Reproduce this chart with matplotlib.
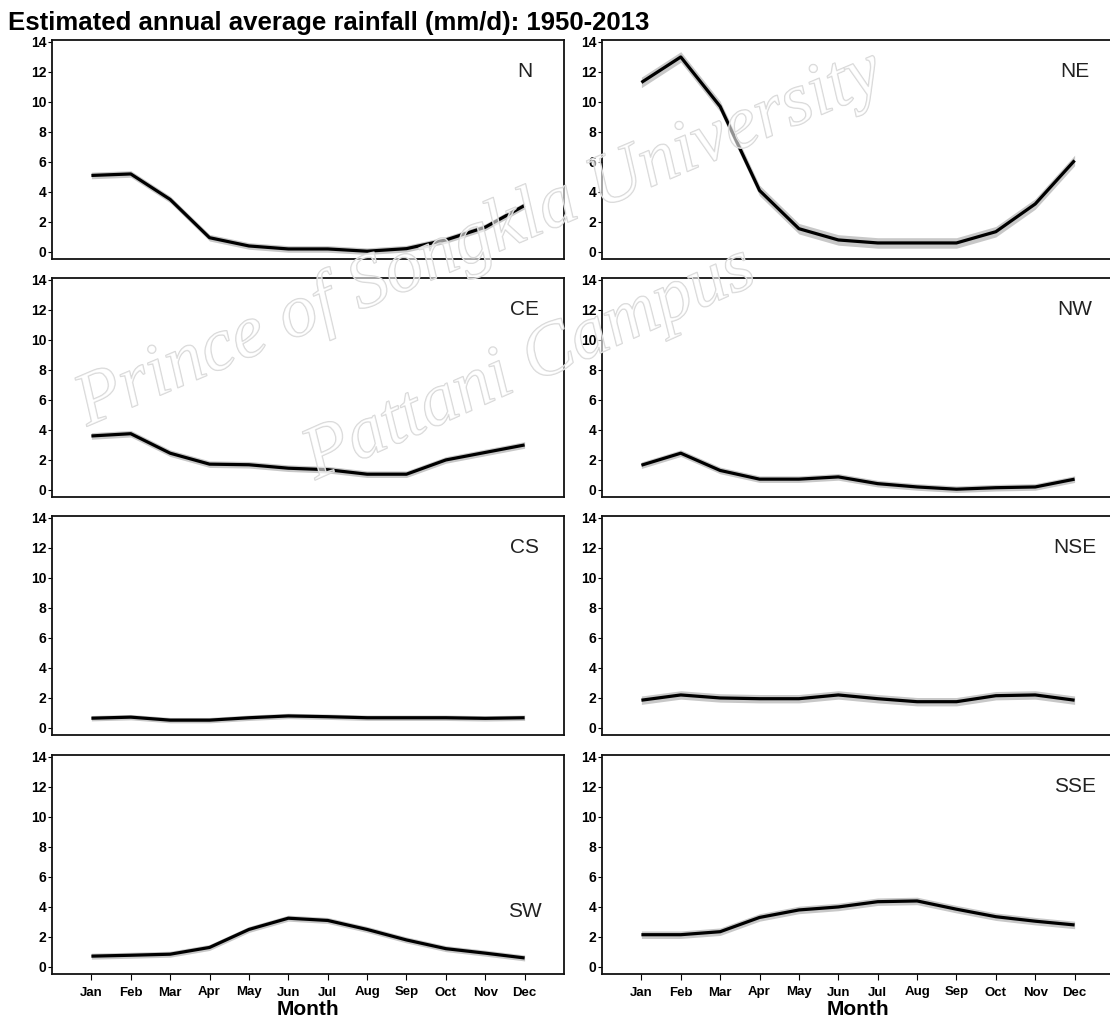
import matplotlib
matplotlib.use("Agg")
import matplotlib.pyplot as plt
import matplotlib.patheffects as pe
import numpy as np

plt.rcParams['font.family'] = ['Liberation Sans', 'DejaVu Sans']

months = ["Jan", "Feb", "Mar", "Apr", "May", "Jun", "Jul", "Aug", "Sep", "Oct", "Nov", "Dec"]
yticks = [0, 2, 4, 6, 8, 10, 12, 14]

region_names = ["N", "NE", "CE", "NW", "CS", "NSE", "SW", "SSE"]

rain_N = [5.1, 5.2, 3.5, 0.95, 0.4, 0.2, 0.2, 0.05, 0.22, 0.8, 1.65, 3.1]
rain_NE = [11.3, 13.0, 9.7, 4.1, 1.55, 0.8, 0.6, 0.6, 0.6, 1.35, 3.2, 6.1]
rain_CE = [3.6, 3.75, 2.45, 1.72, 1.68, 1.45, 1.35, 1.05, 1.05, 2.0, 2.5, 3.0]
rain_NW = [1.65, 2.45, 1.3, 0.72, 0.72, 0.87, 0.42, 0.2, 0.05, 0.15, 0.2, 0.72]
rain_CS = [0.65, 0.72, 0.52, 0.52, 0.68, 0.8, 0.75, 0.68, 0.68, 0.68, 0.64, 0.68]
rain_NSE = [1.85, 2.2, 2.0, 1.95, 1.95, 2.2, 1.95, 1.75, 1.75, 2.15, 2.2, 1.85]
rain_SW = [0.72, 0.78, 0.85, 1.3, 2.5, 3.25, 3.1, 2.5, 1.8, 1.22, 0.92, 0.6]
rain_SSE = [2.15, 2.15, 2.35, 3.3, 3.8, 4.0, 4.35, 4.4, 3.85, 3.35, 3.05, 2.8]

band_halfwidth = [0.22, 0.35, 0.22, 0.22, 0.18, 0.28, 0.2, 0.25]
label_y = [12.0, 12.0, 12.0, 12.0, 12.0, 12.0, 3.7, 12.0]

series = [rain_N, rain_NE, rain_CE, rain_NW, rain_CS, rain_NSE, rain_SW, rain_SSE]

W, H = 1110, 1018
fig = plt.figure(figsize=(W / 100, H / 100), dpi=100)

col_left = [52, 602]
col_width = 512
row_tops = [40, 278, 516, 755]
row_height = 219

x = np.arange(1, 13)
for i, (name, vals) in enumerate(zip(region_names, series)):
    r, c = divmod(i, 2)
    left = col_left[c] / W
    bottom = 1 - (row_tops[r] + row_height) / H
    ax = fig.add_axes([left, bottom, col_width / W, row_height / H])
    v = np.array(vals)
    b = band_halfwidth[i]
    ax.fill_between(x, v - b, v + b, color='#c8c8c8', lw=0, zorder=2)
    ax.plot(x, v, color='black', lw=2.3, zorder=3, solid_capstyle='butt')
    ax.set_xlim(0, 13)
    ax.set_ylim(-0.47, 14.13)
    ax.set_yticks(yticks)
    ax.set_yticklabels([str(t) for t in yticks], fontsize=10, fontweight='bold')
    ax.tick_params(axis='y', direction='out', length=3, width=0.8, pad=1)
    if r == 3:
        ax.set_xticks(x)
        ax.set_xticklabels(months, fontsize=9.5, fontweight='bold')
        ax.tick_params(axis='x', direction='out', length=4, width=0.8, pad=5)
        ax.set_xlabel("Month", fontsize=15, fontweight='bold', labelpad=1)
    else:
        ax.set_xticks([])
    for s in ax.spines.values():
        s.set_linewidth(1.3)
        s.set_color('#111111')
    ax.text(12, label_y[i], name, fontsize=15, ha='center', va='center', color='#222222', zorder=4)

fig.text(8 / W, 1 - 30 / H, "Estimated annual average rainfall (mm/d): 1950-2013",
         fontsize=18.5, fontweight='bold', ha='left', va='baseline')

wm_effects = [pe.withStroke(linewidth=1.0, foreground='#d6d6d6')]
fig.text(480 / W, 1 - 240 / H, "Prince of Songkla University", fontsize=54,
         family='Liberation Serif', style='italic', rotation=23, ha='center', va='center',
         color=(1, 1, 1, 0.35), path_effects=wm_effects, zorder=10)
fig.text(530 / W, 1 - 365 / H, "Pattani Campus", fontsize=54,
         family='Liberation Serif', style='italic', rotation=24, ha='center', va='center',
         color=(1, 1, 1, 0.35), path_effects=wm_effects, zorder=10)

fig.savefig("out.png", dpi=100)
